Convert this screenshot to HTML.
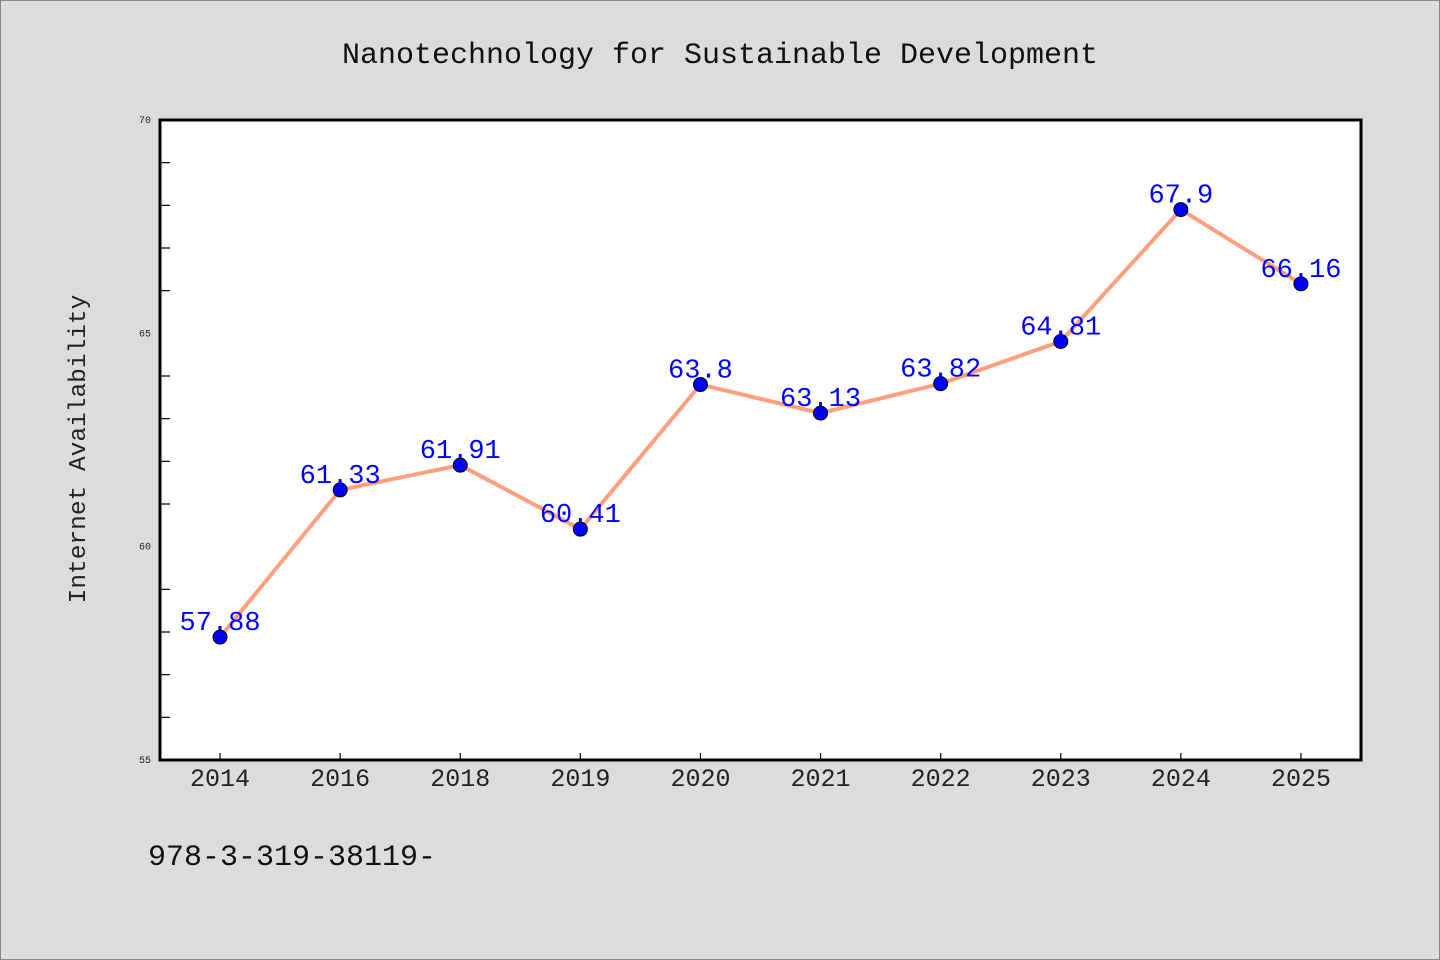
<!DOCTYPE html>
<html><head><meta charset="utf-8"><style>
body{margin:0;background:#dcdcdc;}
svg{display:block;font-family:"Liberation Mono","DejaVu Sans Mono",monospace;}
</style></head><body>
<svg width="1440" height="960" xmlns="http://www.w3.org/2000/svg">
<rect x="0.5" y="0.5" width="1439" height="959" fill="#dcdcdc" stroke="#888"/>
<text x="720" y="63" text-anchor="middle" font-size="30" fill="#111">Nanotechnology for Sustainable Development</text>
<rect x="160" y="120" width="1201" height="640" fill="#fff"/>
<g id="yaxis"></g>
<g id="xaxis"></g>
<g id="series"></g>
<rect x="160" y="120" width="1201" height="640" fill="none" stroke="#000" stroke-width="3"/>
<text transform="translate(85,449) rotate(-90)" text-anchor="middle" font-size="24.5" fill="#222">Internet Availability</text>
<text x="148" y="865" font-size="30" fill="#111">978-3-319-38119-</text>
</svg>
<script>
const categories=["2014","2016","2018","2019","2020","2021","2022","2023","2024","2025"];
const values=[57.88,61.33,61.91,60.41,63.8,63.13,63.82,64.81,67.9,66.16];
const valueLabels=["57.88","61.33","61.91","60.41","63.8","63.13","63.82","64.81","67.9","66.16"];
const yTicks=[55,60,65,70];
const yMin=55,yMax=70;
const NS="http://www.w3.org/2000/svg";
const L=160,R=1361,T=120,B=760;
const bw=(R-L)/categories.length;
function x(i){return L+bw*(i+0.5);}
function y(v){return B-(v-yMin)/(yMax-yMin)*(B-T);}
function mk(t,a,p){const e=document.createElementNS(NS,t);for(const k in a)e.setAttribute(k,a[k]);p.appendChild(e);return e;}
const ya=document.getElementById('yaxis'),xa=document.getElementById('xaxis'),se=document.getElementById('series');
for(let v=yMin;v<=yMax;v++){
  const len=yTicks.includes(v)?0:10;
  if(len){const t=mk('line',{x1:L,x2:L+len,y1:y(v),y2:y(v),stroke:'#000','stroke-width':1.2},ya);
  
  }
}
yTicks.forEach(v=>{
  const t=mk('text',{x:151,y:y(v)+3,'text-anchor':'end','font-size':10,fill:'#222'},ya);
  t.textContent=v;
  
  
});
categories.forEach((c,i)=>{
  const tk=mk('line',{x1:x(i),x2:x(i),y1:B,y2:B-7,stroke:'#000','stroke-width':1.2},xa);
  
  
  const t=mk('text',{x:x(i),y:B+26,'text-anchor':'middle','font-size':25,fill:'#222'},xa);
  t.textContent=c;
  
  
});
const line=mk('polyline',{points:values.map((v,i)=>x(i)+','+y(v)).join(' '),fill:'none',stroke:'#ff9f7f','stroke-width':4,'stroke-linejoin':'round'},se);


values.forEach((v,i)=>{
  const c=mk('circle',{cx:x(i),cy:y(v),r:7,fill:'#0000ff',stroke:'#000','stroke-width':1},se);
  
  
});
values.forEach((v,i)=>{
  const t=mk('text',{x:x(i),y:y(v)-7,'text-anchor':'middle','font-size':27,fill:'#0000ff'},se);
  t.textContent=valueLabels[i];
  
  
});
</script>
</body></html>
